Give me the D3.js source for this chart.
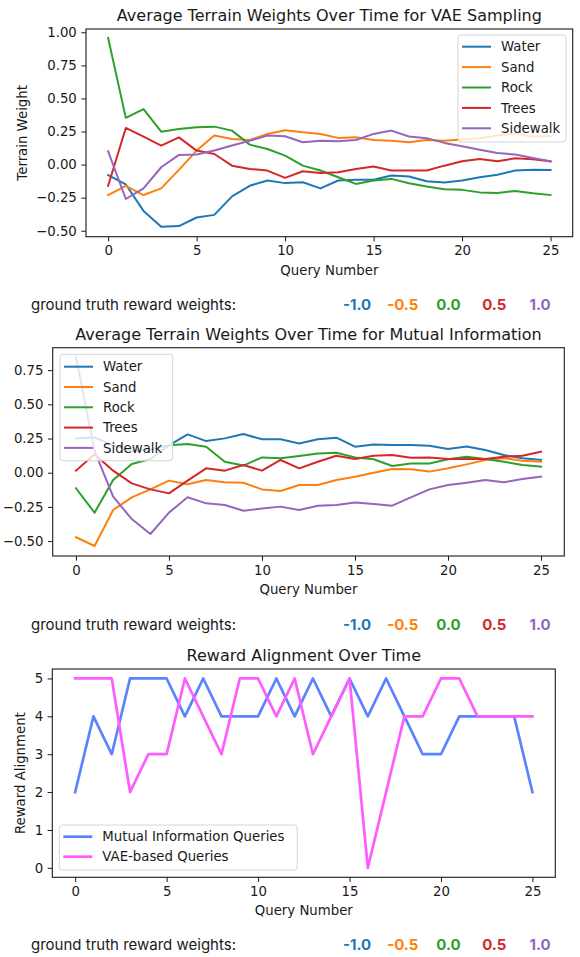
<!DOCTYPE html>
<html>
<head>
<meta charset="utf-8">
<script src="https://cdn.jsdelivr.net/npm/d3@7"></script>
<style>
    body { margin: 0; background: #fff; }
    svg text { font-family: "DejaVu Sans", sans-serif; fill: #1a1a1a; }
    .gt-text { font-family: Inter, "Noto Sans", sans-serif; }
</style>
</head>
<body>
<div id="chart-area"></div>
<script>

// query numbers on the x axis
const queryNumbers = [0, 1, 2, 3, 4, 5, 6, 7, 8, 9, 10, 11, 12, 13, 14, 15, 16, 17, 18, 19, 20, 21, 22, 23, 24, 25];
const xTicks = [0, 5, 10, 15, 20, 25];

const terrainNames = ['Water', 'Sand', 'Rock', 'Trees', 'Sidewalk'];
const terrainColors = ['#1f77b4', '#ff7f0e', '#2ca02c', '#d62728', '#9467bd'];

// VAE sampling weights
const vaeWater    = [-0.08, -0.15, -0.35, -0.47, -0.465, -0.40, -0.38, -0.24, -0.16, -0.12, -0.14, -0.133, -0.18, -0.12, -0.115, -0.115, -0.083, -0.09, -0.126, -0.136, -0.12, -0.096, -0.076, -0.045, -0.038, -0.04];
const vaeSand     = [-0.23, -0.16, -0.23, -0.18, -0.04, 0.106, 0.22, 0.194, 0.186, 0.232, 0.26, 0.244, 0.232, 0.202, 0.207, 0.186, 0.181, 0.169, 0.186, 0.181, 0.19, 0.20, 0.22, 0.235, 0.21, 0.215];
const vaeRock     = [0.957, 0.353, 0.42, 0.249, 0.269, 0.282, 0.287, 0.257, 0.151, 0.118, 0.068, -0.008, -0.045, -0.096, -0.146, -0.12, -0.108, -0.141, -0.166, -0.186, -0.191, -0.21, -0.214, -0.20, -0.217, -0.23];
const vaeTrees    = [-0.16, 0.277, 0.211, 0.143, 0.206, 0.106, 0.08, -0.008, -0.033, -0.045, -0.10, -0.05, -0.063, -0.058, -0.033, -0.015, -0.045, -0.045, -0.045, -0.008, 0.025, 0.043, 0.025, 0.048, 0.04, 0.025];
const vaeSidewalk = [0.10, -0.26, -0.18, -0.02, 0.073, 0.076, 0.106, 0.144, 0.18, 0.22, 0.214, 0.169, 0.18, 0.176, 0.186, 0.232, 0.257, 0.212, 0.20, 0.164, 0.139, 0.113, 0.088, 0.076, 0.05, 0.025];

// mutual information weights
const miWater    = [0.251, 0.258, 0.20, 0.16, 0.17, 0.20, 0.28, 0.231, 0.251, 0.283, 0.244, 0.244, 0.214, 0.244, 0.256, 0.19, 0.207, 0.202, 0.202, 0.197, 0.173, 0.192, 0.166, 0.129, 0.105, 0.093];
const miSand     = [-0.472, -0.536, -0.273, -0.18, -0.122, -0.058, -0.085, -0.053, -0.07, -0.073, -0.122, -0.134, -0.09, -0.09, -0.053, -0.029, 0.0, 0.027, 0.025, 0.008, 0.032, 0.061, 0.093, 0.105, 0.088, 0.08];
const miRock     = [-0.114, -0.292, -0.053, 0.064, 0.10, 0.20, 0.21, 0.19, 0.08, 0.052, 0.112, 0.105, 0.122, 0.141, 0.146, 0.112, 0.098, 0.049, 0.068, 0.068, 0.098, 0.117, 0.10, 0.08, 0.056, 0.044];
const miTrees    = [0.015, 0.135, 0.015, -0.078, -0.122, -0.151, -0.058, 0.032, 0.015, 0.056, 0.015, 0.093, 0.032, 0.08, 0.124, 0.10, 0.124, 0.129, 0.11, 0.112, 0.10, 0.10, 0.10, 0.117, 0.124, 0.154];
const miSidewalk = [0.848, 0.16, -0.175, -0.339, -0.448, -0.292, -0.18, -0.224, -0.236, -0.278, -0.261, -0.248, -0.273, -0.241, -0.236, -0.217, -0.229, -0.241, -0.18, -0.122, -0.09, -0.073, -0.053, -0.07, -0.046, -0.029];

// reward alignment
const alignMI  = [2, 4, 3, 5, 5, 5, 4, 5, 4, 4, 4, 5, 4, 5, 4, 5, 4, 5, 4, 3, 3, 4, 4, 4, 4, 2];
const alignVAE = [5, 5, 5, 2, 3, 3, 5, 4, 3, 5, 5, 4, 5, 3, 4, 5, 0, 2, 4, 4, 5, 5, 4, 4, 4, 4];
const alignNames = ['Mutual Information Queries', 'VAE-based Queries'];
const alignColors = ['#5b83ff', '#ff5cff'];

const weightTicks = [-0.5, -0.25, 0, 0.25, 0.5, 0.75, 1.0];
const alignTicks = [0, 1, 2, 3, 4, 5];

// ground truth row
const truthLabels = ['-1.0', '-0.5', '0.0', '0.5', '1.0'];


/* * * * * * * * * * * * * *
*         LineVis          *
* * * * * * * * * * * * * */

class LineVis {

    constructor(svg, config) {
        this.svg = svg;
        this.config = config;
        this.initVis();
    }

    initVis() {
        let vis = this;
        let c = vis.config;

        vis.g = vis.svg.append('g');

        vis.x = d3.scaleLinear()
            .domain([-1.25, 26.25])
            .range([c.left, c.right]);

        vis.y = d3.scaleLinear()
            .domain(c.yDomain)
            .range([c.bottom, c.top]);

        const minus = s => s.replace('-', '\u2212');

        // x axis
        vis.g.append('g')
            .attr('class', 'x-axis')
            .attr('transform', `translate(0, ${c.bottom})`)
            .call(d3.axisBottom(vis.x).tickValues(xTicks).tickSize(4.7).tickPadding(4.5).tickSizeOuter(0));

        // y axis
        vis.g.append('g')
            .attr('class', 'y-axis')
            .attr('transform', `translate(${c.left}, 0)`)
            .call(d3.axisLeft(vis.y).tickValues(c.yTicks).tickSize(4.7).tickPadding(4.5).tickSizeOuter(0)
                .tickFormat(d => minus(d3.format(c.yFormat)(d))));

        vis.g.selectAll('.domain').remove();
        vis.g.selectAll('.tick line').attr('stroke', '#1a1a1a').attr('stroke-width', 1);
        vis.g.selectAll('.tick text').attr('font-size', 13.3).attr('fill', '#1a1a1a')
            .attr('font-family', '"DejaVu Sans", sans-serif');

        vis.updateVis();

        // frame
        vis.g.append('rect')
            .attr('x', c.left)
            .attr('y', c.top)
            .attr('width', c.right - c.left)
            .attr('height', c.bottom - c.top)
            .attr('fill', 'none')
            .attr('stroke', '#1a1a1a')
            .attr('stroke-width', 1.1);

        // title
        vis.g.append('text')
            .attr('x', (c.left + c.right) / 2)
            .attr('y', c.top - 8)
            .attr('text-anchor', 'middle')
            .attr('font-size', 16)
            .text(c.title);

        // x label
        vis.g.append('text')
            .attr('x', (c.left + c.right) / 2)
            .attr('y', c.bottom + 38)
            .attr('text-anchor', 'middle')
            .attr('font-size', 13.3)
            .text('Query Number');

        // y label
        if (c.yLabel) {
            vis.g.append('text')
                .attr('transform', `translate(${c.yLabelX}, ${(c.top + c.bottom) / 2}) rotate(-90)`)
                .attr('text-anchor', 'middle')
                .attr('dy', '0.35em')
                .attr('font-size', 13.3)
                .text(c.yLabel);
        }

        vis.drawLegend();
    }

    updateVis() {
        let vis = this;
        let c = vis.config;

        let line = d3.line()
            .x((d, i) => vis.x(queryNumbers[i]))
            .y(d => vis.y(d));

        vis.g.selectAll('.series')
            .data(c.series)
            .enter()
            .append('path')
            .attr('class', 'series')
            .attr('d', d => line(d.values))
            .attr('fill', 'none')
            .attr('stroke', d => d.color)
            .attr('stroke-width', c.lineWidth)
            .attr('stroke-linejoin', 'round')
            .attr('stroke-linecap', 'square');
    }

    drawLegend() {
        let vis = this;
        let c = vis.config;
        let L = c.legend;

        let lg = vis.g.append('g')
            .attr('transform', `translate(${L.x}, ${L.y})`);

        lg.append('rect')
            .attr('width', L.w)
            .attr('height', L.h)
            .attr('rx', 3)
            .attr('fill', 'rgba(255,255,255,0.8)')
            .attr('stroke', '#d6d6d6')
            .attr('stroke-width', 1);

        c.series.forEach((s, i) => {
            let yy = L.first + i * L.step;
            lg.append('line')
                .attr('x1', 4).attr('x2', 33)
                .attr('y1', yy).attr('y2', yy)
                .attr('stroke', s.color)
                .attr('stroke-width', c.lineWidth);
            lg.append('text')
                .attr('x', 43)
                .attr('y', yy)
                .attr('dy', '0.35em')
                .attr('font-size', 13.3)
                .text(s.name);
        });
    }
}

function drawTruthRow(svg, yMid) {
    svg.append('text')
        .attr('class', 'gt-text')
        .attr('x', 31)
        .attr('y', yMid)
        .attr('dy', '0.35em')
        .attr('font-size', 15)
        .text('ground truth reward weights:');

    let xs = d3.scalePoint().domain(truthLabels).range([357, 540]);
    svg.selectAll(null)
        .data(truthLabels)
        .enter()
        .append('text')
        .attr('class', 'gt-text')
        .attr('x', d => xs(d))
        .attr('y', yMid)
        .attr('dy', '0.35em')
        .attr('text-anchor', 'middle')
        .attr('font-size', 15)
        .attr('font-weight', 700)
        .style('fill', (d, i) => terrainColors[i])
        .text(d => d);
}

let svg = d3.select('#chart-area').append('svg')
    .attr('width', 580)
    .attr('height', 957);

const toSeries = (arrs, names, colors) => arrs.map((v, i) => ({name: names[i], color: colors[i], values: v}));

new LineVis(svg, {
    title: 'Average Terrain Weights Over Time for VAE Sampling',
    left: 86, right: 572.7, top: 29, bottom: 236.7,
    yDomain: [-0.545, 1.025], yTicks: weightTicks, yFormat: '.2f',
    yLabel: 'Terrain Weight', yLabelX: 22,
    lineWidth: 2,
    series: toSeries([vaeWater, vaeSand, vaeRock, vaeTrees, vaeSidewalk], terrainNames, terrainColors),
    legend: {x: 458, y: 35, w: 108, h: 107, first: 11.7, step: 20.4}
});
drawTruthRow(svg, 305);

new LineVis(svg, {
    title: 'Average Terrain Weights Over Time for Mutual Information',
    left: 52.7, right: 564.3, top: 347.7, bottom: 556,
    yDomain: [-0.609, 0.914], yTicks: weightTicks.slice(0, 6), yFormat: '.2f',
    lineWidth: 2,
    series: toSeries([miWater, miSand, miRock, miTrees, miSidewalk], terrainNames, terrainColors),
    legend: {x: 60, y: 354.3, w: 112.7, h: 106.4, first: 12.4, step: 20.3}
});
drawTruthRow(svg, 625);

new LineVis(svg, {
    title: 'Reward Alignment Over Time',
    left: 52.3, right: 555.3, top: 669, bottom: 877.3,
    yDomain: [-0.25, 5.25], yTicks: alignTicks, yFormat: 'd',
    yLabel: 'Reward Alignment', yLabelX: 20,
    lineWidth: 2.7,
    series: toSeries([alignMI, alignVAE], alignNames, alignColors),
    legend: {x: 59.3, y: 825, w: 238, h: 45, first: 11.7, step: 20}
});
drawTruthRow(svg, 945);

</script>
</body>
</html>
